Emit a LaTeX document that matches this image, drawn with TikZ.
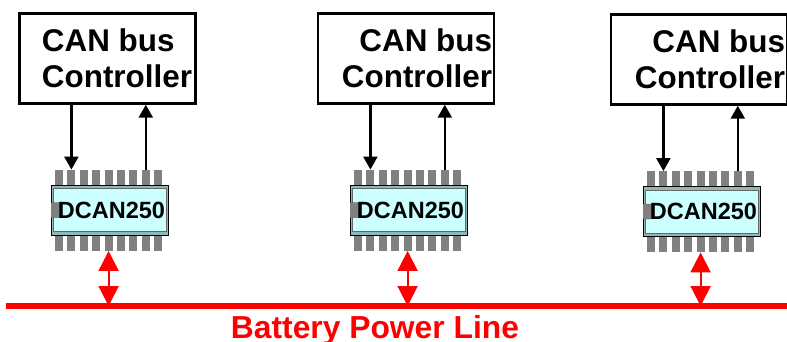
\documentclass[tikz,border=0pt]{standalone}
\usepackage{fontspec}
\setmainfont{Liberation Sans}
\usetikzlibrary{arrows.meta}
\definecolor{chipedge}{HTML}{8FB8B8}
\definecolor{chipface}{HTML}{CCFFFF}
\definecolor{pingrey}{HTML}{808080}
\tikzset{
    ctrlbox/.style={draw=black,line width=2.4pt,fill=white,minimum width=176pt,minimum height=90pt,
        inner sep=0pt,font=\fontsize{31.4}{36}\selectfont\bfseries},
    chipbody/.style={draw=black,line width=.8pt,fill=chipedge,minimum width=117pt,minimum height=50pt,inner sep=0pt},
    chipinner/.style={draw=black!60,line width=.5pt,fill=chipface,minimum width=113pt,minimum height=43pt,inner sep=0pt},
    chiplabel/.style={inner sep=0pt,font=\fontsize{23.5}{26}\selectfont\bfseries},
    chippin/.style={fill=pingrey,minimum width=8pt,minimum height=15.5pt,inner sep=0pt},
    sigline/.style={line width=2.4pt,-{Triangle[width=14pt,length=13pt]}},
    pwrline/.style={red,line width=2pt,{Triangle[width=20pt,length=20pt]}-{Triangle[width=20pt,length=20pt]}},
}
\begin{document}
\begin{tikzpicture}[x=1pt,y=-1pt]
    \useasboundingbox (0,0) rectangle (787,341);
    \node[fill=red,minimum width=781pt,minimum height=6pt,inner sep=0pt] (bus) at (396.5,306) {};
    \node[red,inner sep=0pt,font=\fontsize{31.8}{36}\selectfont\bfseries] (buslabel) at (375,330) {Battery Power Line};
    \foreach \n/\bx/\by/\cx/\cy/\al/\tx in {
        A/107.5/58.5/109.5/210/left/9.5,
        B/406/58.5/408.5/210/right/11,
        C/699/59.5/701.5/211.5/right/11} {
        \node[ctrlbox] (ctrl\n) at (\bx,\by) {};
        \node[inner sep=0pt,align=\al,font=\fontsize{31.4}{36}\selectfont\bfseries] (ctrltext\n)
            at (\bx+\tx,\by) {CAN bus\\Controller};
        \foreach \i in {1,...,9} {
            \node[chippin] (pintop\n\i) at ({\cx-50.5+(\i-1)*12.4},\cy-32.5) {};
            \node[chippin] (pinbot\n\i) at ({\cx-50.5+(\i-1)*12.4},\cy+33) {};
        }
        \node[chipbody] (chip\n) at (\cx,\cy) {};
        \node[chipinner] (chipface\n) at (\cx,\cy) {};
        \fill[pingrey,draw=black!70,line width=.4pt,rounded corners=3.5pt]
            (\cx-58.5,\cy-7.5) -- (\cx-47.5,\cy-7.5) -- (\cx-47.5,\cy+7.5) -- (\cx-58.5,\cy+7.5);
        \node[chiplabel] (chiplabel\n) at (\cx+2,\cy) {DCAN250};
        \draw[sigline] (pintop\n2.north |- ctrl\n.south) -- (pintop\n2.north);
        \draw[sigline] (pintop\n8.north) -- (pintop\n8.north |- ctrl\n.south);
        \draw[pwrline] (pinbot\n5.south) -- (pinbot\n5.south |- bus.center);
    }
\end{tikzpicture}
\end{document}
